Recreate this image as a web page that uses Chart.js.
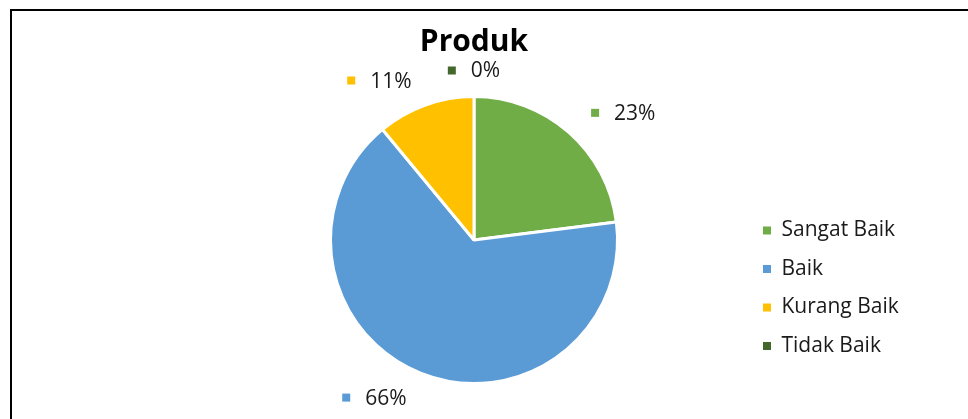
<!DOCTYPE html>
<html>
<head>
<meta charset="utf-8">
<title>Produk</title>
<script src="https://cdn.jsdelivr.net/npm/chart.js@4.4.0/dist/chart.umd.min.js"></script>
<style>
  html,body{margin:0;padding:0;background:#fff;overflow:hidden;}
  #frame{position:absolute;left:10px;top:9px;width:1000px;height:500px;border-left:2px solid #000;border-top:2px solid #000;}
  #chart{position:absolute;left:0;top:0;}
</style>
</head>
<body>
<div id="frame"></div>
<canvas id="chart" width="968" height="419"></canvas>
<script>
let categories=["Sangat Baik","Baik","Kurang Baik","Tidak Baik"];
let values=[23,66,11,0];
let colors=["#70AD47","#5B9BD5","#FFC000","#43682B"];

let fontFamily="'Open Sans'";
let labelSize=21;
let legendGap=17.5;
let textColor="#1a1a1a";

// legend box starts here, so its first colour square lands at x=763
let legendLeft=763-legendGap;

function legendPadRight(){
    let c=document.createElement("canvas").getContext("2d");
    c.font=labelSize+"px "+fontFamily;
    let tw=Math.max(...categories.map(t=>c.measureText(t).width));
    let legendWidth=legendGap+8+labelSize/2+tw+10;
    return 968-legendLeft-legendWidth;
}

// percent labels with a small colour square, placed outside each slice
const pctLabels={
    id:"pctLabels",
    afterDatasetsDraw(chart){
        let ctx=chart.ctx;
        let arcs=chart.getDatasetMeta(0).data;
        let total=values.reduce((a,b)=>a+b,0);
        ctx.save();
        ctx.font=labelSize+"px "+fontFamily;
        ctx.textBaseline="middle";
        ctx.textAlign="left";
        arcs.forEach((arc,i)=>{
            let p=arc.getProps(["x","y","startAngle","endAngle","outerRadius"],true);
            let mid=(p.startAngle+p.endAngle)/2;
            let ux=Math.cos(mid),uy=Math.sin(mid);
            let text=Math.round(values[i]/total*100)+"%";
            let w=8+15+ctx.measureText(text).width;
            let dist=p.outerRadius+26;
            let side=Math.max(-1,Math.min(1,ux/0.3));
            let cx=p.x+ux*dist+side*(w/2+5);
            let cy=p.y+uy*dist+1;
            let left=cx-w/2;
            ctx.fillStyle=colors[i];
            ctx.fillRect(left,cy-5,8,8);
            ctx.fillStyle=textColor;
            ctx.fillText(text,left+23,cy);
        });
        ctx.restore();
    }
};

let chart;

window.onload=function(){
    initChart();
}

function initChart(){

    let ctx=document.getElementById("chart");

    chart=new Chart(ctx,{
        type:"pie",
        data:{
            labels:categories,
            datasets:[
                {
                    data:values,
                    backgroundColor:colors,
                    borderColor:"#fff",
                    borderWidth:3,
                    radius:143.5
                }
            ]
        },
        options:{
            responsive:false,
            animation:false,
            devicePixelRatio:1,
            layout:{
                // pie centre x = (left padding + legendLeft)/2 = 474
                padding:{top:0,bottom:45,left:948-legendLeft,right:legendPadRight()}
            },
            plugins:{
                title:{
                    display:true,
                    text:"Produk",
                    color:"#000",
                    fullSize:false,
                    font:{family:fontFamily,size:30,weight:"bold",lineHeight:1.25},
                    padding:{top:24,bottom:44.5}
                },
                legend:{
                    position:"right",
                    align:"end",
                    fullSize:false,
                    labels:{
                        boxWidth:8,
                        boxHeight:8,
                        padding:legendGap,
                        color:textColor,
                        font:{family:fontFamily,size:labelSize},
                        generateLabels(chart){
                            let items=Chart.overrides.doughnut.plugins.legend.labels.generateLabels(chart);
                            items.forEach(it=>{it.lineWidth=0;});
                            return items;
                        }
                    }
                },
                tooltip:{enabled:false}
            }
        },
        plugins:[pctLabels]
    });
}
</script>
</body>
</html>
